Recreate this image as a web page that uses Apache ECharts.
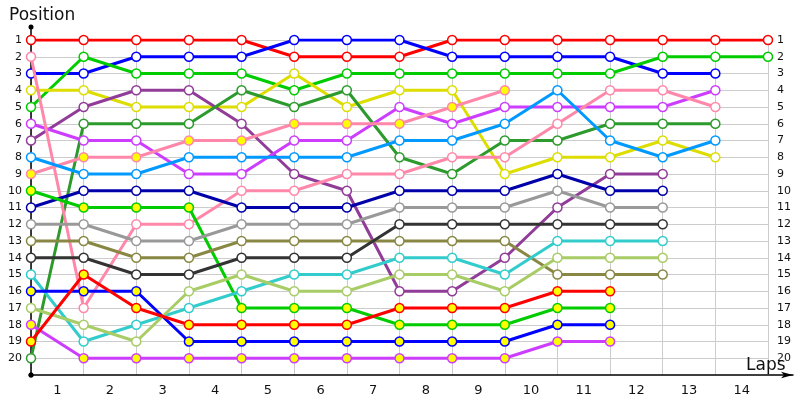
<!DOCTYPE html>
<html>
<head>
<meta charset="utf-8">
<script src="https://cdn.jsdelivr.net/npm/echarts@6/dist/echarts.min.js"></script>
<style>
html,body{margin:0;padding:0;background:#fff;}
#main{width:800px;height:400px;}
</style>
</head>
<body>
<div id="main"></div>
<script>
// laps 0 = start
var laps = [0,1,2,3,4,5,6,7,8,9,10,11,12,13,14];
var posLabels = ['1','2','3','4','5','6','7','8','9','10','11','12','13','14','15','16','17','18','19','20'];
var lapLabels = ['1','2','3','4','5','6','7','8','9','10','11','12','13','14'];

// positions per car, lap by lap (null = no longer running)
var red1    = [1,1,1,1,1,2,2,2,1,1,1,1,1,1,1];
var blue1   = [3,3,2,2,2,1,1,1,2,2,2,2,3,3,null];
var green1  = [5,2,3,3,3,4,3,3,3,3,3,3,2,2,2];
var yellow  = [4,4,5,5,5,3,5,4,4,9,8,8,7,8,null];
var purple  = [7,5,4,4,6,9,10,16,16,14,11,9,9,null,null];
var dkgreen = [20,6,6,6,4,5,4,8,9,7,7,6,6,6,null];
var magenta1= [6,7,7,9,9,7,7,5,6,5,5,5,5,4,null];
var pink1   = [2,17,12,12,10,10,9,9,8,8,6,4,4,5,null];
var pink2   = [9,8,8,7,7,6,6,6,5,4,null,null,null,null,null];
var ltblue  = [8,9,9,8,8,8,8,7,7,6,4,7,8,7,null];
var navy    = [11,10,10,10,11,11,11,10,10,10,9,10,10,null,null];
var green2  = [10,11,11,11,17,17,17,18,18,18,17,17,null,null,null];
var grey    = [12,12,13,13,12,12,12,11,11,11,10,11,11,null,null];
var olive   = [13,13,14,14,13,13,13,13,13,13,15,15,15,null,null];
var dark    = [14,14,15,15,14,14,14,12,12,12,12,12,12,null,null];
var cyan    = [15,19,18,17,16,15,15,14,14,15,13,13,13,null,null];
var blue2   = [16,16,16,19,19,19,19,19,19,19,18,18,null,null,null];
var khaki   = [17,18,19,16,15,16,16,15,15,16,14,14,14,null,null];
var magenta2= [18,20,20,20,20,20,20,20,20,20,19,19,null,null,null];
var red2    = [19,15,17,18,18,18,18,17,17,17,16,16,null,null,null];

var cars = [red1,blue1,green1,yellow,purple,dkgreen,magenta1,pink1,pink2,ltblue,navy,green2,grey,olive,dark,cyan,blue2,khaki,magenta2,red2];
var colors = ['#ff0000','#0000ff','#00cc00','#dddd00','#903c98','#2c9a2c','#cc3dff','#ff88aa','#ff88aa','#0099ff',
              '#0000aa','#00cc00','#999999','#888844','#333333','#33cccc','#0000ff','#a8cc66','#cc3dff','#ff0000'];
// marker fill: yellow for some cars
var fills = ['#fff','#fff','#fff','#fff','#fff','#fff','#fff','#fff','#ffff00','#fff',
             '#fff','#ffff00','#fff','#fff','#fff','#fff','#ffff00','#fff','#ffff00','#ffff00'];

var series = [];
for (var i = 0; i < cars.length; i++) {
	var d = [];
	for (var j = 0; j < laps.length; j++) {
		if (cars[i][j] != null) d.push([laps[j], cars[i][j]]);
	}
	series.push({
		type:'line',
		xAxisIndex:0, yAxisIndex:0,
		data:d,
		symbol:'circle',
		symbolSize:9,
		showAllSymbol:true,
		lineStyle:{color:colors[i],width:3},
		itemStyle:{color:fills[i],borderColor:colors[i],borderWidth:1.5},
		emphasis:{disabled:true},
		animation:false,
		z:2+i
	});
}

var font = 'DejaVu Sans';
var myChart = echarts.init(document.getElementById('main'));
var option = {
	animation:false,
	title:[
		{text:'Position',left:4,top:2,textStyle:{fontSize:17,fontWeight:'normal',color:'#111',fontFamily:font}},
		{text:'Laps',left:741,top:352,textStyle:{fontSize:17,fontWeight:'normal',color:'#111',fontFamily:font}}
	],
	grid:[
		{left:31,right:32,top:40,bottom:25},
		{left:31,right:7,top:27,bottom:25}
	],
	xAxis:[
		{
			gridIndex:0, type:'value', min:0, max:14, interval:1,
			axisLine:{show:false}, axisTick:{show:false}, axisLabel:{show:false},
			splitLine:{show:true,lineStyle:{color:'#cccccc',width:1}}
		},
		{
			gridIndex:0, type:'value', min:0, max:14, interval:0.5, position:'bottom',
			axisLine:{show:false}, axisTick:{show:false}, splitLine:{show:false},
			axisLabel:{
				show:true, margin:9, fontSize:13, color:'#111', fontFamily:font,
				showMinLabel:false, showMaxLabel:false,
				formatter:function(v){
					var k = Math.round(v*2);
					return (k % 2 === 1) ? lapLabels[(k-1)/2] : '';
				}
			}
		},
		{
			gridIndex:1, type:'value', min:0, max:1,
			axisLine:{show:true,onZero:false,symbol:['circle','arrow'],symbolSize:[5,12],lineStyle:{color:'#000',width:1.5}},
			axisTick:{show:false}, axisLabel:{show:false}, splitLine:{show:false}
		}
	],
	yAxis:[
		{
			gridIndex:0, type:'value', inverse:true, min:1, max:21, interval:1,
			axisLine:{show:false}, axisTick:{show:false},
			splitLine:{show:true,showMaxLine:false,lineStyle:{color:'#cccccc',width:1}},
			axisLabel:{
				margin:9, fontSize:11, color:'#111', fontFamily:font,
				formatter:function(v){ return posLabels[v-1] || ''; }
			}
		},
		{
			gridIndex:0, type:'value', inverse:true, min:1, max:21, interval:1, position:'right',
			axisLine:{show:false}, axisTick:{show:false}, splitLine:{show:false},
			axisLabel:{
				margin:9, fontSize:11, color:'#111', fontFamily:font,
				formatter:function(v){ return posLabels[v-1] || ''; }
			}
		},
		{
			gridIndex:1, type:'value', min:0, max:1,
			axisLine:{show:true,onZero:false,symbol:['circle','circle'],symbolSize:[5,5],lineStyle:{color:'#000',width:1.5}},
			axisTick:{show:false}, axisLabel:{show:false}, splitLine:{show:false}
		}
	],
	series:series
};
myChart.setOption(option);
</script>
</body>
</html>
